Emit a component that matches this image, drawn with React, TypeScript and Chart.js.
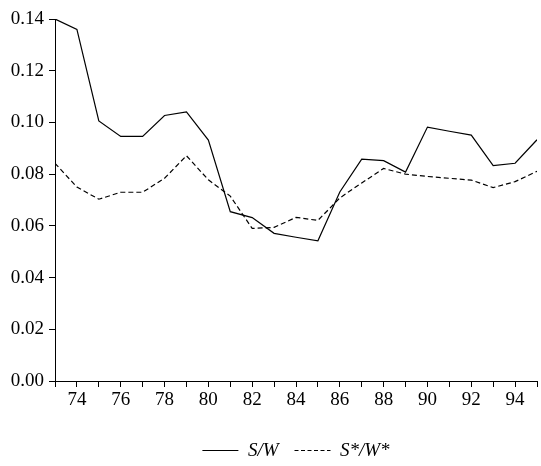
import React, { useEffect, useRef } from "react";
import { Chart, registerables } from "chart.js";

Chart.register(...registerables);

const years = [73, 74, 75, 76, 77, 78, 79, 80, 81, 82, 83, 84, 85, 86, 87, 88, 89, 90, 91, 92, 93, 94, 95];
const sw = [0.140, 0.136, 0.1006, 0.0946, 0.0946, 0.1027, 0.1041, 0.0932, 0.0655, 0.0632, 0.0571, 0.0556, 0.0542, 0.0731, 0.0858, 0.0852, 0.0808, 0.0982, 0.0966, 0.0951, 0.0833, 0.0842, 0.0933];
const swStar = [0.0842, 0.0750, 0.0703, 0.0730, 0.0730, 0.0784, 0.0871, 0.0778, 0.0715, 0.0590, 0.0594, 0.0633, 0.0621, 0.0708, 0.0766, 0.0822, 0.0800, 0.0791, 0.0784, 0.0777, 0.0748, 0.0771, 0.0811];
const seriesLabels = ["S/W", "S*/W*"];
const yTicks = [0, 0.02, 0.04, 0.06, 0.08, 0.1, 0.12, 0.14];

const FONT = "'Liberation Serif', 'Times New Roman', serif";
const DASH = [5, 3];

export default function App() {
  const ref = useRef<HTMLCanvasElement | null>(null);
  useEffect(() => {
    let chart: Chart | null = null;
    let cancelled = false;
    const build = () => {
      if (cancelled || !ref.current) return;
      chart = new Chart(ref.current, {
        type: "line",
        data: {
          datasets: [
            {
              label: seriesLabels[0],
              data: years.map((x, i) => ({ x, y: sw[i] })),
              borderColor: "#000",
              backgroundColor: "#000",
              borderWidth: 1.2,
              pointRadius: 0,
              tension: 0,
            },
            {
              label: seriesLabels[1],
              data: years.map((x, i) => ({ x, y: swStar[i] })),
              borderColor: "#000",
              backgroundColor: "#000",
              borderWidth: 1.2,
              borderDash: DASH,
              pointRadius: 0,
              tension: 0,
            },
          ],
        },
        options: {
          animation: false,
          responsive: true,
          maintainAspectRatio: false,
          layout: { padding: { top: 19, right: 4, left: 0, bottom: -4 } },
          plugins: {
            tooltip: { enabled: false },
            legend: {
              position: "bottom",
              fullSize: false,
              labels: {
                color: "#000",
                font: { family: FONT, size: 19, style: "italic" },
                usePointStyle: true,
                pointStyle: "line",
                pointStyleWidth: 36,
                padding: 16,
                generateLabels: (c: any) => {
                  const items = Chart.defaults.plugins.legend.labels.generateLabels(c);
                  return items.map((it: any, i: number) => ({
                    ...it,
                    lineDash: i === 1 ? [4, 2.5] : [],
                    lineWidth: 1,
                    strokeStyle: "#000",
                  }));
                },
              },
            },
          },
          scales: {
            x: {
              type: "linear",
              min: years[0],
              max: years[years.length - 1],
              afterBuildTicks: (scale: any) => {
                scale.ticks = years.map((v) => ({ value: v }));
              },
              afterFit: (scale: any) => {
                scale.height = 44;
              },
              ticks: {
                color: "#000",
                font: { family: FONT, size: 19 },
                padding: 2,
                maxRotation: 0,
                autoSkip: false,
                callback: (v: any) => (Number(v) % 2 === 0 ? String(v) : ""),
              },
              grid: {
                display: true,
                drawOnChartArea: false,
                drawTicks: true,
                tickLength: 6,
                color: "#000",
              },
              border: { display: true, color: "#000", width: 1 },
            },
            y: {
              min: 0,
              max: 0.14,
              afterBuildTicks: (scale: any) => {
                scale.ticks = yTicks.map((v) => ({ value: v }));
              },
              afterFit: (scale: any) => {
                scale.width = 55;
              },
              ticks: {
                color: "#000",
                font: { family: FONT, size: 19 },
                padding: 5,
                callback: (v: any) => Number(v).toFixed(2),
              },
              grid: {
                display: true,
                drawOnChartArea: false,
                drawTicks: true,
                tickLength: 6,
                color: "#000",
              },
              border: { display: true, color: "#000", width: 1 },
            },
          },
        },
      });
    };
    const fontsApi: any = (document as any).fonts;
    if (fontsApi && fontsApi.load) {
      Promise.all([
        fontsApi.load("19px 'Liberation Serif'"),
        fontsApi.load("italic 19px 'Liberation Serif'"),
      ]).then(build, build);
    } else {
      build();
    }
    return () => {
      cancelled = true;
      if (chart) chart.destroy();
    };
  }, []);
  return (
    <div style={{ position: "fixed", left: 0, top: 0, width: 541, height: 466, background: "#fff" }}>
      <canvas ref={ref} />
    </div>
  );
}
